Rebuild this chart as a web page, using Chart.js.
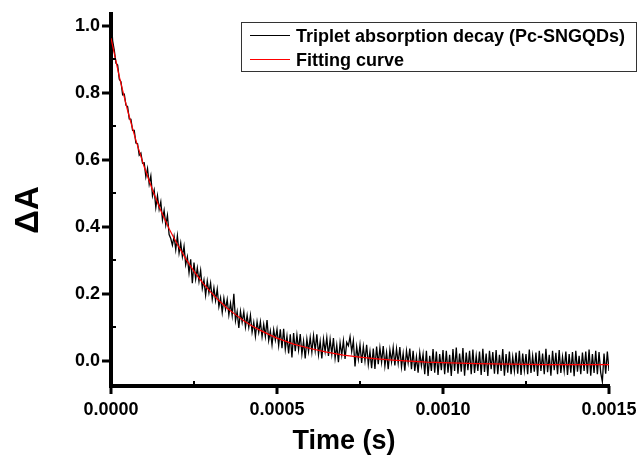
<!DOCTYPE html>
<html>
<head>
<meta charset="utf-8">
<script src="https://cdn.jsdelivr.net/npm/chart.js@4.4.1/dist/chart.umd.min.js"></script>
<style>
  body { margin: 0; background: #fff; }
  #wrap { width: 638px; height: 455px; }
</style>
</head>
<body>
<div id="wrap"><canvas id="myChart" width="638" height="455"></canvas></div>
<script>
// triplet absorption decay, sampled every 5 microseconds
const sampleStep = 5e-6;
const decayValues = [
  1.025, 0.955, 0.926, 0.888, 0.883, 0.840, 0.833, 0.794, 0.796, 0.763,
  0.759, 0.722, 0.721, 0.688, 0.688, 0.650, 0.648, 0.614, 0.620, 0.590,
  0.591, 0.549, 0.574, 0.527, 0.552, 0.492, 0.510, 0.458, 0.493, 0.452,
  0.475, 0.421, 0.449, 0.405, 0.434, 0.377, 0.365, 0.345, 0.372, 0.332,
  0.373, 0.322, 0.352, 0.311, 0.342, 0.287, 0.310, 0.263, 0.303, 0.232,
  0.293, 0.244, 0.277, 0.237, 0.270, 0.216, 0.241, 0.196, 0.238, 0.203,
  0.232, 0.184, 0.218, 0.180, 0.214, 0.162, 0.188, 0.145, 0.187, 0.154,
  0.183, 0.137, 0.172, 0.135, 0.200, 0.120, 0.147, 0.098, 0.148, 0.115,
  0.146, 0.101, 0.136, 0.100, 0.136, 0.086, 0.115, 0.073, 0.117, 0.085,
  0.117, 0.072, 0.109, 0.073, 0.122, 0.061, 0.089, 0.048, 0.093, 0.062,
  0.094, 0.046, 0.094, 0.038, 0.096, 0.035, 0.074, 0.022, 0.079, 0.010,
  0.083, 0.029, 0.077, 0.033, 0.080, 0.020, 0.059, 0.007, 0.065, 0.028,
  0.070, 0.026, 0.075, 0.031, 0.079, 0.019, 0.058, 0.007, 0.065, 0.028,
  0.069, 0.015, 0.064, 0.020, 0.068, 0.008, 0.047, -0.004, 0.054, 0.017,
  0.060, 0.006, 0.055, 0.045, 0.072, 0.028, 0.060, -0.017, 0.042, 0.005,
  0.048, -0.006, 0.043, 0.000, 0.048, -0.011, 0.028, -0.022, 0.037, -0.024,
  0.043, -0.010, 0.039, -0.004, 0.044, -0.015, 0.025, -0.025, 0.033, -0.003,
  0.040, -0.014, 0.036, -0.007, 0.041, -0.018, 0.022, -0.029, 0.030, -0.006,
  0.037, -0.025, 0.030, -0.030, 0.012, -0.035, 0.025, -0.015, 0.020, -0.040,
  0.030, -0.045, 0.015, -0.030, 0.035, -0.035, 0.028, -0.042, 0.020, -0.028,
  0.032, -0.040, 0.030, -0.035, 0.018, -0.045, 0.035, -0.030, 0.040, -0.038,
  0.022, -0.032, 0.038, -0.044, 0.025, -0.028, 0.030, -0.040, 0.034, -0.036,
  0.015, -0.030, 0.028, -0.042, 0.036, -0.033, 0.022, -0.045, 0.030, -0.025,
  0.026, -0.038, 0.032, -0.040, 0.018, -0.030, 0.035, -0.044, 0.020, -0.035,
  0.028, -0.040, 0.012, -0.030, 0.025, -0.038, 0.030, -0.042, 0.022, -0.028,
  0.020, -0.040, 0.034, -0.036, 0.015, -0.032, 0.025, -0.045, 0.030, -0.030,
  0.022, -0.040, 0.036, -0.034, 0.018, -0.044, 0.030, -0.028, 0.024, -0.040,
  0.032, -0.036, 0.012, -0.030, 0.028, -0.042, 0.020, -0.035, 0.026, -0.046,
  0.030, -0.032, 0.015, -0.040, 0.025, -0.030, 0.028, -0.038, 0.034, -0.044,
  0.020, -0.036, 0.030, -0.040, 0.026, -0.035, -0.062, 0.022, -0.038, 0.028,
  -0.030
];

// fitted exponential decay
const fitTimes = [
  0, 0.000025, 0.00005, 0.000075, 0.0001, 0.000125, 0.00015, 0.000175, 0.0002,
  0.000225, 0.00025, 0.000275, 0.0003, 0.000325, 0.00035, 0.000375, 0.0004,
  0.000425, 0.00045, 0.000475, 0.0005, 0.00055, 0.0006, 0.00065, 0.0007,
  0.00075, 0.0008, 0.00085, 0.0009, 0.00095, 0.001, 0.0011, 0.0012, 0.0013,
  0.0014, 0.0015
];
const fitValues = [
  0.963, 0.848, 0.747, 0.658, 0.579, 0.510, 0.449, 0.394, 0.347,
  0.305, 0.267, 0.234, 0.206, 0.180, 0.157, 0.138, 0.120,
  0.104, 0.091, 0.079, 0.068, 0.050, 0.037, 0.026, 0.017,
  0.011, 0.006, 0.002, -0.001, -0.004, -0.005, -0.008, -0.010, -0.011,
  -0.011, -0.011
];

const xMajorTicks = [0, 0.0005, 0.001, 0.0015];
const xMinorTicks = [0.00025, 0.00075, 0.00125];
const yMajorTicks = [0, 0.2, 0.4, 0.6, 0.8, 1.0];
const yMinorTicks = [0.1, 0.3, 0.5, 0.7, 0.9];

const seriesNames = ["Triplet absorption decay (Pc-SNGQDs)", "Fitting curve"];
const seriesColors = ["#000000", "#ff0000"];

const FONT = '"Liberation Sans", Arial, sans-serif';

const decayPoints = decayValues.map((v, i) => ({ x: i * sampleStep, y: v }));
const fitPoints = fitTimes.map((t, i) => ({ x: t, y: fitValues[i] }));

const decorations = {
    id: 'decorations',
    afterDraw(chart) {
        const { ctx, chartArea, scales: { x, y } } = chart;
        ctx.save();
        ctx.strokeStyle = '#000';
        ctx.lineCap = 'butt';

        // major ticks point outward, minor ticks inward
        ctx.lineWidth = 3;
        xMajorTicks.forEach(v => {
            const px = Math.round(x.getPixelForValue(v));
            ctx.beginPath();
            ctx.moveTo(px, chartArea.bottom);
            ctx.lineTo(px, chartArea.bottom + 8);
            ctx.stroke();
        });
        yMajorTicks.forEach(v => {
            const py = Math.round(y.getPixelForValue(v));
            ctx.beginPath();
            ctx.moveTo(chartArea.left, py);
            ctx.lineTo(chartArea.left - 9, py);
            ctx.stroke();
        });
        ctx.lineWidth = 2;
        xMinorTicks.forEach(v => {
            const px = Math.round(x.getPixelForValue(v));
            ctx.beginPath();
            ctx.moveTo(px, chartArea.bottom);
            ctx.lineTo(px, chartArea.bottom - 5);
            ctx.stroke();
        });
        yMinorTicks.forEach(v => {
            const py = Math.round(y.getPixelForValue(v));
            ctx.beginPath();
            ctx.moveTo(chartArea.left, py);
            ctx.lineTo(chartArea.left + 5, py);
            ctx.stroke();
        });

        // axis titles
        ctx.fillStyle = '#000';
        ctx.font = 'bold 27px ' + FONT;
        ctx.textAlign = 'center';
        ctx.textBaseline = 'alphabetic';
        ctx.fillText('Time (s)', 344, 449);

        ctx.save();
        ctx.translate(38, 210);
        ctx.rotate(-Math.PI / 2);
        ctx.font = 'bold 33px ' + FONT;
        ctx.fillText('\u0394A', 0, 0);
        ctx.restore();

        // legend box
        ctx.lineWidth = 1;
        ctx.strokeStyle = '#333';
        ctx.strokeRect(241.5, 22.5, 395, 49);
        ctx.font = 'bold 18px ' + FONT;
        ctx.textAlign = 'left';
        const rows = [35, 59];
        seriesNames.forEach((name, i) => {
            ctx.strokeStyle = seriesColors[i];
            ctx.beginPath();
            ctx.moveTo(250, rows[i] + 0.5);
            ctx.lineTo(290, rows[i] + 0.5);
            ctx.stroke();
            ctx.fillStyle = '#000';
            ctx.fillText(name, 296, rows[i] + 6.5);
        });
        ctx.restore();
    }
};

const ctx = document.getElementById('myChart');

new Chart(ctx, {
    type: 'line',
    data: {
        datasets: [
            {
                label: seriesNames[1],
                data: fitPoints,
                borderColor: seriesColors[1],
                borderWidth: 1.2,
                pointRadius: 0,
                order: 1
            },
            {
                label: seriesNames[0],
                data: decayPoints,
                borderColor: seriesColors[0],
                borderWidth: 1.3,
                pointRadius: 0,
                order: 2
            }
        ]
    },
    options: {
        responsive: false,
        animation: false,
        layout: { padding: { left: 0, top: 14, right: 29, bottom: 0 } },
        plugins: {
            legend: { display: false },
            tooltip: { enabled: false }
        },
        scales: {
            x: {
                type: 'linear',
                min: 0,
                max: 0.0015,
                afterBuildTicks: scale => { scale.ticks = xMajorTicks.map(v => ({ value: v })); },
                afterFit: scale => {
                    scale.height = 455 - 386;
                    scale.paddingLeft = 0;
                    scale.paddingRight = 0;
                },
                grid: { display: false, drawTicks: false },
                border: { display: true, width: 4, color: '#000' },
                ticks: {
                    autoSkip: false,
                    maxRotation: 0,
                    padding: 13,
                    color: '#000',
                    font: { family: FONT, size: 18, weight: 'bold' },
                    callback: v => v.toFixed(4)
                }
            },
            y: {
                type: 'linear',
                min: -0.075,
                max: 1.035,
                afterBuildTicks: scale => { scale.ticks = yMajorTicks.map(v => ({ value: v })); },
                afterFit: scale => {
                    scale.width = 111;
                    scale.paddingTop = 0;
                    scale.paddingBottom = 0;
                },
                grid: { display: false, drawTicks: false },
                border: { display: true, width: 4, color: '#000' },
                ticks: {
                    autoSkip: false,
                    padding: 11,
                    color: '#000',
                    font: { family: FONT, size: 18, weight: 'bold' },
                    callback: v => v.toFixed(1)
                }
            }
        }
    },
    plugins: [decorations]
});
</script>
</body>
</html>
